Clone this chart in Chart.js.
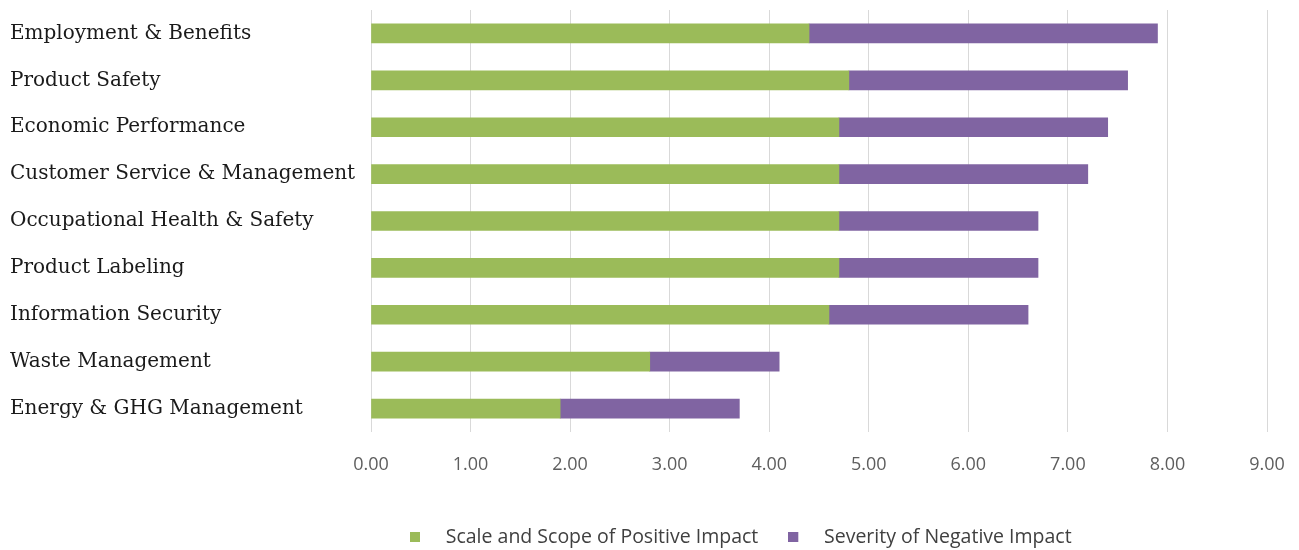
<!DOCTYPE html>
<html>
<head>
<meta charset="utf-8">
<script src="https://cdn.jsdelivr.net/npm/chart.js@4/dist/chart.umd.min.js"></script>
<style>
  html, body { margin: 0; padding: 0; background: #ffffff; }
  #wrap { position: relative; width: 1299px; height: 550px; }
</style>
</head>
<body>
<div id="wrap"><canvas id="c" width="1299" height="550"></canvas></div>
<script>
const categories = [
  "Employment & Benefits",
  "Product Safety",
  "Economic Performance",
  "Customer Service & Management",
  "Occupational Health & Safety",
  "Product Labeling",
  "Information Security",
  "Waste Management",
  "Energy & GHG Management"
];
const positiveImpact = [4.4, 4.8, 4.7, 4.7, 4.7, 4.7, 4.6, 2.8, 1.9];
const negativeImpact = [3.5, 2.8, 2.7, 2.5, 2.0, 2.0, 2.0, 1.3, 1.8];
const seriesNames = ["Scale and Scope of Positive Impact", "Severity of Negative Impact"];
const xMin = 0, xMax = 9, xStep = 1;

const GREEN = "#9BBB59", PURPLE = "#8064A2";
const LEGEND_PAD = 30;
const PLOT_BOTTOM = 432;

function legendMarker(color) {
  const cv = document.createElement("canvas");
  cv.width = 26; cv.height = 10;
  const g = cv.getContext("2d");
  g.fillStyle = color;
  g.fillRect(0, 0, 10, 10);
  return cv;
}

const legendPlacer = {
  id: "legendPlacer",
  afterLayout(chart) {
    const lg = chart.legend;
    if (!lg) return;
    const ih = lg.height - 2 * LEGEND_PAD;
    const top = 527 - LEGEND_PAD - ih / 2;
    const h = lg.height;
    lg.top = top; lg.bottom = top + h;
    lg.left = 410 - LEGEND_PAD; lg.right = 1299;
    lg.width = lg.right - lg.left;
  }
};

new Chart(document.getElementById("c"), {
  type: "bar",
  data: {
    labels: categories,
    datasets: [
      { label: seriesNames[0], data: positiveImpact, backgroundColor: GREEN, borderWidth: 0, barThickness: 19,
        pointStyle: legendMarker(GREEN) },
      { label: seriesNames[1], data: negativeImpact, backgroundColor: PURPLE, borderWidth: 0, barThickness: 19,
        pointStyle: legendMarker(PURPLE) }
    ]
  },
  plugins: [legendPlacer],
  options: {
    indexAxis: "y",
    responsive: false,
    animation: false,
    layout: { padding: { left: 10, right: 32, top: 0, bottom: 0 } },
    plugins: {
      tooltip: { enabled: false },
      legend: {
        position: "bottom",
        align: "start",
        labels: {
          usePointStyle: true,
          pointStyleWidth: 26,
          boxHeight: 10,
          padding: LEGEND_PAD,
          color: "#404040",
          font: { family: "'Open Sans', sans-serif", size: 19.5 }
        }
      }
    },
    scales: {
      x: {
        stacked: true,
        min: xMin, max: xMax,
        ticks: {
          stepSize: xStep,
          padding: 14,
          color: "#5e5e5e",
          font: { family: "'Open Sans', sans-serif", size: 18 },
          callback: v => Number(v).toFixed(2)
        },
        grid: { color: "#d9d9d9", lineWidth: 1, tickLength: 8, drawTicks: true, tickColor: "rgba(0,0,0,0)" },
        border: { display: false },
        afterFit: s => {
          const lh = s.chart.legend ? s.chart.legend.height : 0;
          s.height = Math.max(10, 550 - PLOT_BOTTOM - lh);
        }
      },
      y: {
        stacked: true,
        ticks: {
          crossAlign: "far",
          color: "#1a1a1a",
          padding: 0,
          font: { family: "'DejaVu Serif', serif", size: 20, lineHeight: 1.0 }
        },
        grid: { display: false },
        border: { display: false },
        afterFit: s => { s.width = 361; }
      }
    }
  }
});
</script>
</body>
</html>
